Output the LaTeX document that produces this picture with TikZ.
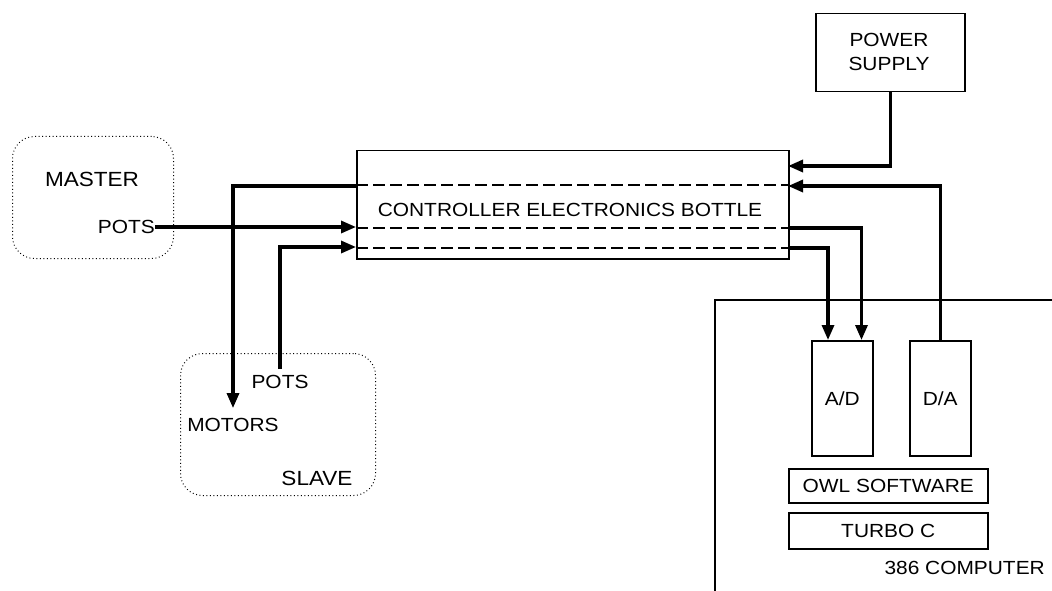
\documentclass[tikz,border=0pt]{standalone}
\usepackage{fontspec}
\setmainfont[FakeStretch=1.1]{Liberation Sans}
\usetikzlibrary{arrows.meta}
\begin{document}
\begin{tikzpicture}[x=1pt,y=-1pt,
  every node/.style={font=\fontsize{19}{21}\selectfont},
  box/.style={draw,line width=1.5pt,inner sep=0pt,anchor=north west},
  txt/.style={inner sep=0pt},
  bigtxt/.style={inner sep=0pt,font=\fontsize{20.5}{23}\selectfont},
  cloud/.style={draw,line width=1pt,rounded corners=22pt,dash pattern=on 0.9pt off 2.6pt,inner sep=0pt,anchor=north west},
  wire/.style={line width=3.2pt},
  arr/.style={wire,-{Triangle[length=15pt,width=12pt]}},
  bus/.style={line width=1.5pt,dash pattern=on 12pt off 5pt}]
\useasboundingbox (0,0) rectangle (1052,591);
% boxes
\node[box,minimum width=149pt,minimum height=78pt] (ps) at (815,13) {};
\node[txt,align=center] (pstext) at (889,52) {POWER\\[3pt]SUPPLY};
\node[box,minimum width=432pt,minimum height=108pt] (ctrl) at (356,150) {};
\node[txt] (ctrltext) at (570,210) {CONTROLLER ELECTRONICS BOTTLE};
\node[box,minimum width=61pt,minimum height=115pt] (ad) at (811,340) {};
\node[txt] at (ad.center) {A/D};
\node[box,minimum width=61pt,minimum height=115pt] (da) at (909,340) {};
\node[txt] at (da.center) {D/A};
\node[box,minimum width=199pt,minimum height=34pt] (owl) at (788,468) {};
\node[txt] at (owl.center) {OWL SOFTWARE};
\node[box,minimum width=199pt,minimum height=36pt] (turbo) at (788,512) {};
\node[txt] at (turbo.center) {TURBO C};
% computer
\coordinate (cbl) at (715,591);
\coordinate (ctl) at (715,300);
\coordinate (ctr) at (1052,300);
\draw[line width=1.5pt] (cbl) -- (ctl) -- (ctr);
\node[txt,anchor=east] (comp) at (1045,568) {386 COMPUTER};
% master / slave
\node[cloud,minimum width=161pt,minimum height=122pt] (master) at (12,136) {};
\node[bigtxt] (mastertext) at (92,179) {MASTER};
\node[txt,anchor=east] (mpots) at (155,227) {POTS};
\node[cloud,minimum width=195pt,minimum height=142pt] (slave) at (180,353) {};
\node[txt,inner sep=6pt] (spots) at (280,382) {POTS};
\node[txt,inner sep=10pt] (motors) at (233,425) {MOTORS};
\node[bigtxt] (slavetext) at (317,478) {SLAVE};
% bus lines inside controller
\foreach \yy in {185,228,248}
  \draw[bus] (ctrl.west |- 0,\yy) -- (ctrl.east |- 0,\yy);
% connectors
\coordinate (cin1) at (788,166);
\coordinate (cin2) at (788,186);
\coordinate (cout1) at (788,228);
\coordinate (cout2) at (788,248);
\coordinate (cin3) at (356,227);
\coordinate (cin4) at (356,247);
\coordinate (cout3) at (356,186);
\draw[arr] (ps.south) |- (cin1);
\draw[arr] (da.north) |- (cin2);
\draw[arr] (cout1) -| ([xshift=-12pt]ad.north east);
\draw[arr] (cout2) -| ([xshift=17pt]ad.north west);
\draw[arr] (mpots.east) -- (cin3);
\draw[arr] (spots.north) |- (cin4);
\draw[arr] (cout3) -| (motors.north);
\end{tikzpicture}
\end{document}
